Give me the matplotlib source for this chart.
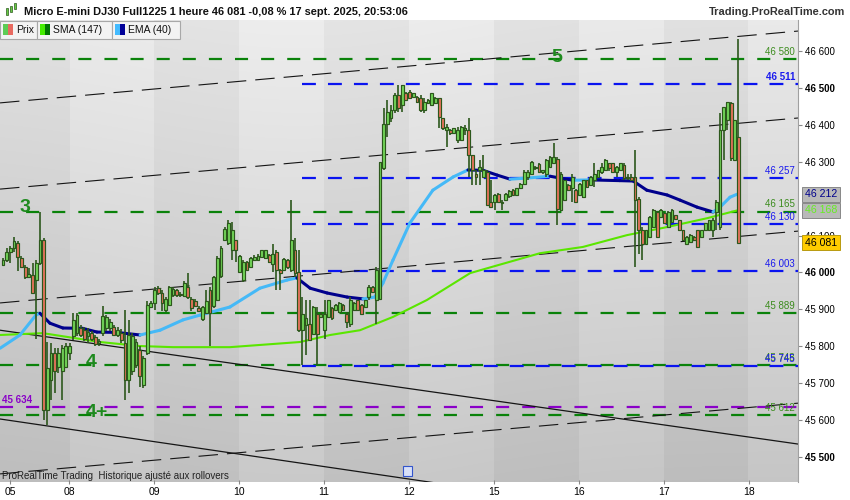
import numpy as np
import matplotlib.pyplot as plt
from matplotlib.patches import Rectangle
from matplotlib.collections import LineCollection
from matplotlib.transforms import blended_transform_factory

plt.rcParams['font.family'] = ['Liberation Sans', 'DejaVu Sans']
plt.rcParams['lines.scale_dashes'] = False

# hourly bars, 12 -> 17 sept. 2025
opens = [46020, 46034, 46056, 46065, 46079, 46038, 46014, 45987, 45993, 45980,
         46025, 46088, 45627, 45708, 45780, 45744, 45731, 45744, 45780, 45826,
         45835, 45848, 45844, 45826, 45836, 45824, 45808, 45835, 45848, 45848,
         45853, 45830, 45835, 45808, 45708, 45731, 45749, 45788, 45694, 45780,
         45907, 45918, 45957, 45943, 45898, 45912, 45939, 45951, 45941, 45936,
         45961, 45927, 45923, 45903, 45873, 45889, 45952, 45909, 45925, 45989,
         46088, 46079, 46060, 46087, 46001, 45979, 46029, 46015, 46033, 46033,
         46042, 46038, 46047, 46024, 46056, 46006, 46006, 46033, 46006, 46060,
         46001, 45843, 45857, 45861, 45834, 45888, 45879, 45843, 45879, 45902,
         45897, 45893, 45911, 45888, 45861, 45897, 45925, 45911, 45906, 45934,
         45959, 45925, 45929, 46282, 46404, 46418, 46441, 46481, 46454, 46486,
         46490, 46477, 46477, 46472, 46441, 46459, 46454, 46459, 46472, 46418,
         46386, 46386, 46377, 46359, 46359, 46386, 46386, 46318, 46268, 46278,
         46259, 46273, 46192, 46192, 46214, 46187, 46196, 46207, 46223, 46210,
         46228, 46241, 46259, 46268, 46282, 46294, 46273, 46268, 46287, 46296,
         46309, 46169, 46196, 46237, 46228, 46223, 46210, 46205, 46250, 46237,
         46250, 46259, 46273, 46277, 46296, 46296, 46273, 46277, 46291, 46259,
         46259, 46259, 46200, 46115, 46078, 46096, 46124, 46164, 46151, 46160,
         46124, 46137, 46155, 46142, 46115, 46078, 46083, 46096, 46115, 46096,
         46115, 46115, 46115, 46165, 46124, 46387, 46414, 46459, 46305, 46368]
closes = [46034, 46056, 46065, 46084, 46043, 46014, 45987, 45996, 45945, 46025,
          46088, 45627, 45740, 45780, 45731, 45780, 45794, 45799, 45799, 45871,
          45884, 45830, 45818, 45839, 45818, 45806, 45815, 45882, 45878, 45866,
          45830, 45844, 45817, 45708, 45830, 45826, 45812, 45719, 45767, 45912,
          45918, 45951, 45945, 45918, 45927, 45960, 45954, 45938, 45939, 45970,
          45932, 45903, 45909, 45896, 45905, 45923, 45891, 45987, 46038, 46065,
          46117, 46135, 46115, 46060, 46044, 46029, 46006, 46038, 46042, 46044,
          46060, 46060, 46029, 46051, 46006, 45997, 46035, 46015, 46087, 45997,
          45843, 45888, 45875, 45816, 45906, 45834, 45888, 45888, 45925, 45875,
          45911, 45916, 45897, 45866, 45925, 45916, 45897, 45888, 45925, 45961,
          45947, 46006, 46300, 46404, 46436, 46441, 46481, 46445, 46508, 46468,
          46472, 46486, 46463, 46441, 46463, 46468, 46486, 46472, 46422, 46391,
          46395, 46377, 46391, 46386, 46395, 46391, 46318, 46278, 46259, 46287,
          46278, 46183, 46178, 46210, 46192, 46192, 46214, 46221, 46210, 46228,
          46241, 46273, 46273, 46300, 46287, 46273, 46278, 46305, 46312, 46314,
          46173, 46268, 46250, 46223, 46259, 46191, 46241, 46250, 46232, 46259,
          46268, 46277, 46286, 46306, 46282, 46273, 46286, 46296, 46255, 46255,
          46250, 46196, 46115, 46078, 46115, 46151, 46169, 46096, 46169, 46133,
          46164, 46169, 46146, 46115, 46087, 46096, 46101, 46087, 46069, 46115,
          46133, 46142, 46142, 46192, 46387, 46450, 46463, 46310, 46414, 46081]
highs = [46038, 46065, 46072, 46095, 46084, 46045, 46020, 46011, 46025, 46034,
         46165, 46093, 45812, 45808, 45794, 45794, 45803, 45808, 45808, 45889,
         45891, 45857, 45853, 45848, 45842, 45830, 45818, 45909, 45884, 45873,
         45856, 45853, 45846, 45898, 45871, 45835, 45818, 45799, 45773, 45921,
         45923, 45961, 45963, 45952, 45932, 45963, 45960, 45954, 45947, 45976,
         45998, 45932, 45927, 45909, 45909, 45952, 45961, 45989, 46045, 46072,
         46123, 46142, 46137, 46089, 46047, 46033, 46030, 46042, 46047, 46049,
         46062, 46062, 46051, 46078, 46060, 46010, 46040, 46037, 46196, 46092,
         46060, 45934, 45925, 45925, 45908, 45906, 45893, 45925, 45926, 45905,
         45914, 45920, 45914, 45893, 45934, 45920, 45926, 45914, 45926, 45965,
         45963, 46015, 46300, 46445, 46468, 46454, 46486, 46508, 46508, 46490,
         46495, 46488, 46479, 46481, 46472, 46470, 46488, 46477, 46472, 46418,
         46404, 46388, 46393, 46395, 46397, 46400, 46418, 46318, 46278, 46305,
         46318, 46278, 46250, 46212, 46216, 46196, 46216, 46223, 46225, 46230,
         46243, 46278, 46278, 46303, 46288, 46296, 46279, 46309, 46316, 46350,
         46314, 46273, 46252, 46239, 46268, 46225, 46243, 46252, 46252, 46261,
         46296, 46279, 46296, 46309, 46297, 46297, 46288, 46297, 46296, 46268,
         46268, 46332, 46205, 46124, 46116, 46153, 46171, 46166, 46171, 46162,
         46166, 46171, 46157, 46143, 46116, 46098, 46103, 46098, 46116, 46116,
         46134, 46143, 46147, 46196, 46432, 46450, 46463, 46463, 46414, 46633]
lows = [46018, 46027, 46025, 46056, 46005, 46011, 45981, 45984, 45943, 45818,
        46020, 45599, 45586, 45654, 45672, 45726, 45654, 45740, 45762, 45817,
        45826, 45824, 45815, 45808, 45815, 45800, 45801, 45826, 45842, 45842,
        45826, 45824, 45808, 45654, 45672, 45722, 45740, 45688, 45685, 45776,
        45903, 45898, 45939, 45894, 45893, 45909, 45934, 45932, 45934, 45932,
        45927, 45896, 45905, 45893, 45869, 45887, 45800, 45903, 45923, 45984,
        46084, 46075, 46033, 46029, 45999, 45974, 46004, 46013, 46031, 46031,
        46040, 46035, 46026, 46001, 45952, 45952, 46004, 46010, 46001, 45988,
        45839, 45748, 45775, 45814, 45832, 45748, 45875, 45820, 45877, 45872,
        45896, 45890, 45896, 45848, 45852, 45895, 45895, 45887, 45905, 45925,
        45944, 45861, 45925, 46278, 46368, 46409, 46432, 46436, 46436, 46466,
        46470, 46475, 46460, 46436, 46432, 46457, 46451, 46457, 46391, 46386,
        46341, 46373, 46375, 46350, 46357, 46373, 46260, 46237, 46237, 46237,
        46258, 46183, 46176, 46169, 46189, 46169, 46194, 46203, 46207, 46207,
        46225, 46237, 46250, 46267, 46278, 46270, 46267, 46259, 46285, 46294,
        46128, 46167, 46194, 46221, 46191, 46189, 46207, 46203, 46230, 46234,
        46232, 46257, 46267, 46276, 46276, 46270, 46259, 46276, 46250, 46250,
        46248, 46015, 46051, 46033, 46077, 46095, 46122, 46095, 46149, 46131,
        46122, 46135, 46143, 46113, 46086, 46077, 46081, 46086, 46067, 46095,
        46113, 46113, 46097, 46115, 46115, 46305, 46387, 46301, 46303, 46079]

# moving averages (bar index, price)
ema_x = [-0.8, 4.6, 8.9, 10.0, 12.7, 16.2, 21.6, 25.4, 30.8, 37.1, 42.5, 48.7,
         53.3, 61.4, 69.5, 76.8, 79.5, 83.1, 87.7, 93.1, 97.4, 100.6, 102.8,
         105.5, 110.1, 116.3, 121.8, 125.8, 129.9, 133.7, 137.2, 141.8, 148.0,
         150.7, 154.2, 158.8, 166.9, 170.5, 174.2, 179.7, 183.2, 187.8, 192.1,
         194.0, 196.7, 198.6]
ema_y = [45794, 45830, 45884, 45889, 45862, 45849, 45848, 45838, 45837, 45830,
         45843, 45871, 45884, 45906, 45957, 45979, 45985, 45957, 45944, 45933,
         45928, 45933, 45971, 46033, 46134, 46223, 46259, 46278, 46277, 46264,
         46253, 46256, 46261, 46256, 46250, 46251, 46249, 46248, 46223, 46210,
         46196, 46177, 46164, 46177, 46204, 46212]
sma_x = [-0.8, 10.8, 26.2, 37.1, 46.0, 61.4, 80.4, 88.5, 96.6, 105.5, 114.7,
         126.4, 145.3, 156.9, 168.8, 179.7, 190.5, 198.6]
sma_y = [45830, 45835, 45811, 45800, 45797, 45797, 45811, 45830, 45843, 45879,
         45925, 45998, 46052, 46069, 46101, 46123, 46147, 46168]

# horizontal levels
green_levels = [46580, 46165, 45889, 45748, 45612]
blue_levels = [46511, 46257, 46130, 46003, 45745]
purple_levels = [45634]
blue_start = 80.9

# trend lines: (x0, p0, x1, p1)
channel_lines = [(-0.8, 46460, 215.1, 46655),
                 (-0.8, 46226, 215.1, 46419),
                 (-0.8, 45917, 215.1, 46112),
                 (-0.8, 45453, 215.1, 45645)]
down_lines = [(-0.8, 45843, 215.1, 45534),
              (-0.8, 45602, 215.1, 45284)]

# wave labels
wave_txt = ['5', '3', '4', '4+']
wave_x = [149.9, 5.9, 23.9, 25.4]
wave_y = [46584, 46175, 45755, 45619]

day_pos = [1.9, 17.9, 40.9, 63.9, 86.9, 109.9, 132.8, 155.8, 178.8, 201.8]
day_lab = ['05', '08', '09', '10', '11', '12', '15', '16', '17', '18']

x_lo, x_hi = -0.81, 215.1
y_lo, y_hi = 45431, 46685


def fmt(v):
    s = '%d' % v
    return s[:-3] + ' ' + s[-3:]


fig = plt.figure(figsize=(8.5, 5), dpi=100)
fig.patch.set_facecolor('white')
ax = fig.add_axes([0, 18/500, 798/850, 462/500])

# gray gradient background with alternating day bands
H, W = 462, 798
yy = np.linspace(0, 1, H)[:, None]
xs = np.linspace(x_lo, x_hi, W)[None, :]
band = np.searchsorted(day_pos[1:], xs, side='right')
shade = 0.915 - 0.14*yy - 0.035*(band % 2 == 0) + 0.015*np.exp(-((xs - 80)/60)**2)
img = np.clip(np.repeat(shade[:, :, None], 3, axis=2), 0, 1)
ax.imshow(img, extent=(x_lo, x_hi, y_lo, y_hi), aspect='auto', origin='upper',
          zorder=0, interpolation='bilinear')

# level lines
for p in green_levels:
    ax.plot([x_lo, x_hi], [p, p], color='#0a820a', lw=1.6, dashes=(9.4, 9.4),
            zorder=2)
for p in blue_levels:
    ax.plot([blue_start, x_hi], [p, p], color='#0a14f0', lw=1.6,
            dashes=(10, 8.7), zorder=2)
for p in purple_levels:
    ax.plot([x_lo, x_hi], [p, p], color='#8a00c8', lw=1.6, dashes=(9.4, 9.4),
            zorder=2)

for x0, p0, x1, p1 in channel_lines:
    ax.plot([x0, x1], [p0, p1], color='#151515', lw=0.8, dashes=(14, 6.5),
            zorder=2)
for x0, p0, x1, p1 in down_lines:
    ax.plot([x0, x1], [p0, p1], color='#151515', lw=0.9, zorder=2)

# SMA
ax.plot(sma_x, sma_y, color='#5ae600', lw=1.5, zorder=3, solid_capstyle='round')

# EMA, light blue when rising, navy when falling
segs = []
cols = []
for i in range(len(ema_x) - 1):
    segs.append([(ema_x[i], ema_y[i]), (ema_x[i+1], ema_y[i+1])])
    cols.append('#45b9f7' if ema_y[i+1] >= ema_y[i] else '#00008c')
ax.add_collection(LineCollection(segs, colors=cols, linewidths=2.2, zorder=3,
                                 capstyle='round'))

# candles
edge = '#2c571c'
for i in range(len(opens)):
    o, c, h, l = opens[i], closes[i], highs[i], lows[i]
    ax.plot([i, i], [l, h], color=edge, lw=1.2, zorder=4, solid_capstyle='butt')
    fc = '#74d85a' if c >= o else '#e8735c'
    ax.add_patch(Rectangle((i - 0.38, min(o, c)), 0.76, max(abs(c - o), 1.5),
                           facecolor=fc, edgecolor=edge, lw=0.85, zorder=5))

# labels on levels
xr = 214.3
for p in green_levels:
    ax.annotate(fmt(p), (xr, p), xytext=(0, 1.5), textcoords='offset points',
                ha='right', va='bottom', fontsize=7, color='#3c8c1e', zorder=6)
for p in blue_levels:
    bold = 'bold' if p == blue_levels[0] else 'normal'
    ax.annotate(fmt(p), (xr, p), xytext=(0, 1.5), textcoords='offset points',
                ha='right', va='bottom', fontsize=7, color='#1a1aee',
                fontweight=bold, zorder=6)
for p in purple_levels:
    ax.annotate(fmt(p), (x_lo, p), xytext=(1.5, 1.5), textcoords='offset points',
                ha='left', va='bottom', fontsize=7, color='#8a00c8',
                fontweight='bold', zorder=6)

for t, x, y in zip(wave_txt, wave_x, wave_y):
    ax.text(x, y, t, ha='center', va='center', fontsize=14, fontweight='bold',
            color='#1e8a1e', zorder=6)

ax.text(2/798, 6/462, 'ProRealTime Trading  Historique ajusté aux rollovers',
        transform=ax.transAxes, fontsize=7, color='#222222', va='center',
        zorder=6)
ax.add_patch(Rectangle((403/798, 6/462), 9/798, 10/462, transform=ax.transAxes,
                       facecolor='#d8e0f8', edgecolor='#3355cc', lw=0.8,
                       zorder=6))

ax.set_xlim(x_lo, x_hi)
ax.set_ylim(y_lo, y_hi)

# right price axis (46 200 sits behind the value tags, so it is left out)
ax.yaxis.tick_right()
yt = [v for v in range(45500, 46700, 100) if v != 46200]
ax.set_yticks(yt)
ax.set_yticklabels([fmt(v) for v in yt])
for lab, v in zip(ax.get_yticklabels(), yt):
    if v % 500 == 0:
        lab.set_fontweight('bold')
        lab.set_fontsize(8)
ax.tick_params(axis='y', length=3, color='#888888', labelsize=7, pad=2)
ax.set_xticks(day_pos)
ax.set_xticklabels(day_lab)
ax.tick_params(axis='x', length=3, direction='inout', color='#888888',
               labelsize=7.5, pad=2)
for s in ['top', 'bottom', 'left']:
    ax.spines[s].set_visible(False)
ax.spines['right'].set_color('#a0a0a0')
ax.spines['right'].set_linewidth(0.8)

# value tags on the axis
tr = blended_transform_factory(ax.transAxes, ax.transData)
tags = [(46212, '#b9b9b9', '#888888', '#00008c'),
        (46168, '#b9b9b9', '#888888', '#66ee22'),
        (46081, '#ffcc00', '#b89a10', '#000000')]
for v, fc, ec, tc in tags:
    ax.text(1.0085, v, fmt(v), transform=tr, ha='left', va='center', fontsize=7.6,
            color=tc, clip_on=False, zorder=7,
            bbox=dict(boxstyle='square,pad=0.25', fc=fc, ec=ec, lw=0.7))

# header
fig.text(24/850, 1 - 12/500,
         'Micro E-mini DJ30 Full1225 1 heure 46 081 -0,08 % 17 sept. 2025, 20:53:06',
         fontsize=7.9, fontweight='bold', va='center', color='#111111')
fig.text(845/850, 1 - 12/500, 'Trading.ProRealTime.com', fontsize=7.9,
         fontweight='bold', ha='right', va='center', color='#333333')
for cx, cy0, cy1 in [(7, 8, 15), (11, 6, 12), (15, 3, 9)]:
    fig.add_artist(Rectangle(((cx - 1.3)/850, 1 - cy1/500), 2.6/850,
                             (cy1 - cy0)/500, facecolor='#66cc44',
                             edgecolor='#2c571c', lw=0.5))

# legend row
legend = [(0, 37, 'Prix', '#5dcc55', '#e86a60'),
          (37, 112, 'SMA (147)', '#44ee00', '#007700'),
          (112, 180, 'EMA (40)', '#44bbff', '#000099')]
for x0, x1, txt, c1, c2 in legend:
    fig.add_artist(Rectangle((x0/850, 1 - 39/500), (x1 - x0)/850, 18/500,
                             facecolor='#f3f3f3', edgecolor='#a8a8a8', lw=0.8))
    fig.add_artist(Rectangle(((x0 + 3)/850, 1 - 35/500), 5/850, 11/500,
                             facecolor=c1, edgecolor='none'))
    fig.add_artist(Rectangle(((x0 + 8)/850, 1 - 35/500), 5/850, 11/500,
                             facecolor=c2, edgecolor='none'))
    fig.text((x0 + 16)/850, 1 - 30/500, txt, fontsize=7.5, va='center',
             color='#111111')

plt.savefig('out.png', dpi=100)
